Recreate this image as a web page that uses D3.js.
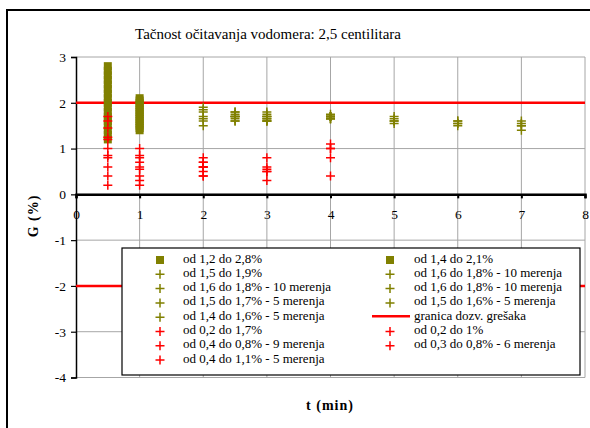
<!DOCTYPE html>
<html>
<head>
<meta charset="utf-8">
<script src="https://cdn.jsdelivr.net/npm/d3@7"></script>
<style>
  html, body { margin: 0; padding: 0; background: #fff; }
  svg { display: block; }
</style>
</head>
<body>
<svg id="chart" width="590" height="428"></svg>
<script>
// ---------------- DATA ----------------
const title = "Tačnost očitavanja vodomera: 2,5 centilitara";
const xLabel = "t (min)";
const yLabel = "G (%)";
const xTicks = [0, 1, 2, 3, 4, 5, 6, 7, 8];
const yTicks = [3, 2, 1, 0, -1, -2, -3, -4];

// olive squares
const sq05 = [2.8, 2.7, 2.6, 2.5, 2.4, 2.3, 2.2, 2.1, 2.0, 1.9, 1.8, 1.7, 1.6, 1.5, 1.4, 1.3, 1.2];
const sq1 = [2.1, 2.05, 2.0, 1.95, 1.9, 1.85, 1.8, 1.75, 1.7, 1.65, 1.6, 1.55, 1.5, 1.45, 1.4];
// olive pluses
const ol2 = [1.9, 1.85, 1.8, 1.7, 1.65, 1.6, 1.5];
const ol25 = [1.8, 1.8, 1.75, 1.7, 1.7, 1.7, 1.7, 1.65, 1.6, 1.6];
const ol3 = [1.8, 1.75, 1.7, 1.7, 1.7, 1.65, 1.65, 1.6, 1.6, 1.6];
const ol4 = [1.75, 1.7, 1.7, 1.7, 1.7, 1.7, 1.7, 1.65, 1.65, 1.65];
const ol5 = [1.7, 1.65, 1.6, 1.6, 1.55];
const ol6 = [1.6, 1.6, 1.55, 1.55, 1.5];
const ol7 = [1.6, 1.55, 1.5, 1.5, 1.4];
// red pluses
const r05 = [1.7, 1.6, 1.45, 1.25, 1.2, 1.0, 0.85, 0.8, 0.6, 0.4, 0.2];
const r1 = [1.0, 0.85, 0.8, 0.7, 0.6, 0.55, 0.4, 0.3, 0.2];
const r2 = [0.8, 0.7, 0.7, 0.6, 0.6, 0.6, 0.5, 0.4, 0.4];
const r3 = [0.8, 0.6, 0.55, 0.5, 0.5, 0.3];
const r4 = [1.1, 1.0, 1.0, 0.8, 0.4];
// permitted error limits
const limits = [2, -2];

const OLIVE = "#808000", RED = "#ff0000";
const FONT = "'Liberation Serif', 'Times New Roman', serif";

// series in legend order (Excel fills legend row-wise, 2 columns)
const series = [
  { t: 0.5, v: sq05, m: "square", c: OLIVE, label: "od 1,2 do 2,8%" },
  { t: 1,   v: sq1,  m: "square", c: OLIVE, label: "od 1,4 do 2,1%" },
  { t: 2,   v: ol2,  m: "plus", c: OLIVE, label: "od 1,5 do 1,9%" },
  { t: 2.5, v: ol25, m: "plus", c: OLIVE, label: "od 1,6 do 1,8% - 10 merenja" },
  { t: 3,   v: ol3,  m: "plus", c: OLIVE, label: "od 1,6 do 1,8% - 10 merenja" },
  { t: 4,   v: ol4,  m: "plus", c: OLIVE, label: "od 1,6 do 1,8% - 10 merenja" },
  { t: 5,   v: ol5,  m: "plus", c: OLIVE, label: "od 1,5 do 1,7% - 5 merenja" },
  { t: 6,   v: ol6,  m: "plus", c: OLIVE, label: "od 1,5 do 1,6% - 5 merenja" },
  { t: 7,   v: ol7,  m: "plus", c: OLIVE, label: "od 1,4 do 1,6% - 5 merenja" },
  { t: null, v: limits, m: "line", c: RED, label: "granica dozv. grešaka" },
  { t: 0.5, v: r05, m: "plus", c: RED, label: "od 0,2 do 1,7%" },
  { t: 1,   v: r1,  m: "plus", c: RED, label: "od 0,2 do 1%" },
  { t: 2,   v: r2,  m: "plus", c: RED, label: "od 0,4 do 0,8% - 9 merenja" },
  { t: 3,   v: r3,  m: "plus", c: RED, label: "od 0,3 do 0,8% - 6 merenja" },
  { t: 4,   v: r4,  m: "plus", c: RED, label: "od 0,4 do 1,1% - 5 merenja" }
];

// ---------------- DRAW ----------------
const svg = d3.select("#chart").attr("font-family", FONT);
const x = d3.scaleLinear().domain([0, 8]).range([76, 585]);
const y = d3.scaleLinear().domain([-4, 3]).range([377.5, 57]);

// outer frame (extends beyond viewport on right/bottom)
svg.append("rect").attr("x", 7).attr("y", 10).attr("width", 620).attr("height", 500)
  .attr("fill", "#fff").attr("stroke", "#000").attr("stroke-width", 2);

// title
svg.append("text").attr("x", 268).attr("y", 39).attr("text-anchor", "middle")
  .attr("font-family", FONT).attr("font-size", 15).text(title);

// gridlines
const grid = svg.append("g").attr("stroke", "#a6a6a6").attr("stroke-width", 1);
grid.selectAll("line.h").data(yTicks).join("line")
  .attr("x1", x(0)).attr("x2", x(8)).attr("y1", d => y(d)).attr("y2", d => y(d));
grid.selectAll("line.v").data(xTicks.slice(1)).join("line")
  .attr("x1", d => x(d)).attr("x2", d => x(d)).attr("y1", y(3)).attr("y2", y(-4));

// y axis
const yAxis = d3.axisLeft(y).tickValues(yTicks).tickSize(5).tickPadding(5).tickFormat(d3.format("d"));
const gy = svg.append("g").attr("transform", `translate(${x(0)},0)`).call(yAxis)
  .attr("font-family", FONT).attr("font-size", 13.5);
gy.select(".domain").attr("stroke", "#000").attr("stroke-width", 1.5);
gy.selectAll(".tick line").attr("stroke", "#000").attr("stroke-width", 1.2);
gy.selectAll(".tick text").attr("fill", "#000").text(d => d < 0 ? "-" + Math.abs(d) : d);

// x axis at y=0
const xAxis = d3.axisBottom(x).tickValues(xTicks).tickSize(4).tickPadding(11).tickFormat(d3.format("d"));
const gx = svg.append("g").attr("transform", `translate(0,${y(0)})`).call(xAxis)
  .attr("font-family", FONT).attr("font-size", 13.5);
gx.select(".domain").attr("stroke", "#000").attr("stroke-width", 2.5);
gx.selectAll(".tick line").attr("stroke", "#000").attr("stroke-width", 2);
gx.selectAll(".tick text").attr("fill", "#000");

// limit lines
svg.append("g").selectAll("line").data(limits).join("line")
  .attr("x1", x(0)).attr("x2", x(8)).attr("y1", d => y(d)).attr("y2", d => y(d))
  .attr("stroke", RED).attr("stroke-width", 2.5);

// markers
const plusPath = "M-4.5,0H4.5M0,-4.5V4.5";
function drawMarker(g, m, c) {
  if (m === "square") {
    g.append("rect").attr("x", -4).attr("y", -4).attr("width", 8).attr("height", 8).attr("fill", c);
  } else if (m === "plus") {
    g.append("path").attr("d", plusPath).attr("stroke", c).attr("stroke-width", 1.5).attr("fill", "none");
  }
}
const pts = svg.append("g");
series.filter(s => s.m !== "line").forEach(s => {
  s.v.forEach(v => {
    const g = pts.append("g").attr("transform", `translate(${x(s.t)},${y(v)})`);
    drawMarker(g, s.m, s.c);
  });
});

// legend
const lg = svg.append("g");
lg.append("rect").attr("x", 122).attr("y", 248).attr("width", 458).attr("height", 127)
  .attr("fill", "#fff").attr("stroke", "#000").attr("stroke-width", 1.2);
const colSym = [160, 390], colText = [183, 414];
series.forEach((s, i) => {
  const col = i % 2, row = Math.floor(i / 2);
  const cy = 258 + row * 14.3;
  if (s.m === "line") {
    lg.append("line").attr("x1", 372).attr("x2", 410).attr("y1", cy + 1).attr("y2", cy + 1)
      .attr("stroke", s.c).attr("stroke-width", 2.5);
  } else {
    const g = lg.append("g").attr("transform", `translate(${colSym[col]},${cy + 2})`);
    drawMarker(g, s.m, s.c);
  }
  lg.append("text").attr("x", colText[col]).attr("y", cy + 4.5)
    .attr("font-family", FONT).attr("font-size", 13).text(s.label);
});

// axis labels
svg.append("text").attr("x", 330).attr("y", 410).attr("text-anchor", "middle")
  .attr("font-family", FONT).attr("font-size", 14).attr("font-weight", "bold")
  .attr("letter-spacing", 1).text(xLabel);
svg.append("text").attr("transform", "translate(38,216) rotate(-90)").attr("text-anchor", "middle")
  .attr("font-family", FONT).attr("font-size", 14).attr("font-weight", "bold")
  .attr("letter-spacing", 1).text(yLabel);
</script>
</body>
</html>
